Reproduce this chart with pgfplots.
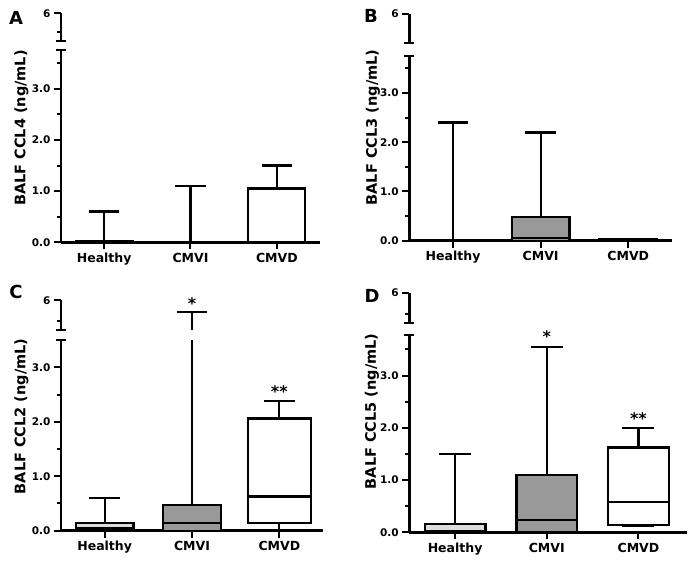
\documentclass[border=0pt]{standalone}
\usepackage{pgfplots}
\pgfplotsset{compat=1.18}
\usepgfplotslibrary{statistics}
\usepackage{fontspec}
\setmainfont{DejaVu Sans}
\definecolor{cmvi}{HTML}{999999}
\definecolor{healthy}{HTML}{DCDCDC}
\pgfplotsset{
  brk/.style={scale only axis, anchor=south west, xmin=-0.5, xmax=2.5,
    axis line style={line width=2.6pt, black},
    tick style={line width=2pt, black},
    major tick length=7pt, minor tick length=4pt, tick align=outside,
    tick label style={font=\fontsize{10.5}{12}\selectfont\bfseries},
    clip mode=individual,
    /pgf/number format/assume math mode=true,
    boxplot/draw direction=y},
  lowerax/.style={brk, axis x line*=bottom, axis y line*=left, ymin=0,
    xtick={0,1,2}, xticklabels={Healthy,CMVI,CMVD},
    xticklabel style={font=\fontsize{12.5}{14}\selectfont\bfseries},
    ytick={0,1,2,3}, yticklabels={0.0,1.0,2.0,3.0},
    minor ytick={0.5,1.5,2.5,3.5},
    extra y tick labels={},
    extra y tick style={tick align=center, major tick length=10pt}},
  upperax/.style={brk, axis x line=none, axis y line*=left, ymin=5.5, ymax=6,
    ytick={6}, yticklabels={6}, minor ytick={5.65},
    extra y ticks={5.5}, extra y tick labels={},
    extra y tick style={tick align=center, major tick length=10pt}},
  bx/.style={draw=black, line width=2.3pt, solid, mark=none},
}
\newcommand{\ylab}[1]{\fontsize{14.5}{16}\selectfont\bfseries #1}
\newcommand{\plab}[1]{\fontsize{18}{20}\selectfont\bfseries #1}
\newcommand{\stars}[1]{\fontsize{16}{18}\selectfont\bfseries #1}
\begin{document}
\begin{tikzpicture}
\path[use as bounding box] (0pt,0pt) rectangle (694pt,567pt);
% ================= Panel A =================
\begin{axis}[lowerax, at={(61pt,324.7pt)}, width=259pt, height=192.3pt, ymax=3.76, extra y ticks={3.76}]
\addplot[bx, fill=healthy, boxplot prepared={draw position=0, lower whisker=0, lower quartile=0, median=0, upper quartile=0.02, upper whisker=0.6, box extend=0.66, whisker extend=0.35}] coordinates {};
\addplot[bx, fill=cmvi, boxplot prepared={draw position=1, lower whisker=0, lower quartile=0, median=0, upper quartile=0.01, upper whisker=1.1, box extend=0.66, whisker extend=0.35}] coordinates {};
\addplot[bx, fill=white, boxplot prepared={draw position=2, lower whisker=0, lower quartile=0, median=0, upper quartile=1.05, upper whisker=1.5, box extend=0.66, whisker extend=0.35}] coordinates {};
\end{axis}
\begin{axis}[upperax, at={(61pt,526.3pt)}, width=259pt, height=27.4pt]
\end{axis}
\node[rotate=90] at (21.5pt,439pt) {\ylab{BALF CCL4 (ng/mL)}};
\node at (16pt,548.7pt) {\plab{A}};
% ================= Panel B =================
\begin{axis}[lowerax, at={(409.3pt,326.3pt)}, width=262.7pt, height=185pt, ymax=3.76, extra y ticks={3.76}]
\addplot[bx, fill=healthy, boxplot prepared={draw position=0, lower whisker=0, lower quartile=0, median=0, upper quartile=0.01, upper whisker=2.4, box extend=0.66, whisker extend=0.35}] coordinates {};
\addplot[bx, fill=cmvi, boxplot prepared={draw position=1, lower whisker=0, lower quartile=0, median=0.06, upper quartile=0.48, upper whisker=2.2, box extend=0.66, whisker extend=0.35}] coordinates {};
\addplot[bx, fill=white, boxplot prepared={draw position=2, lower whisker=0, lower quartile=0, median=0.01, upper quartile=0.03, upper whisker=0.04, box extend=0.66, whisker extend=0.35}] coordinates {};
\end{axis}
\begin{axis}[upperax, at={(409.3pt,523.7pt)}, width=262.7pt, height=29.3pt, minor ytick={}]
\end{axis}
\node[rotate=90] at (373pt,439.5pt) {\ylab{BALF CCL3 (ng/mL)}};
\node at (371pt,551pt) {\plab{B}};
% ================= Panel C =================
\begin{axis}[lowerax, at={(61pt,36.3pt)}, width=262pt, height=190.4pt, ymax=3.5, extra y ticks={3.5}]
\addplot[bx, fill=healthy, boxplot prepared={draw position=0, lower whisker=0, lower quartile=0, median=0.04, upper quartile=0.14, upper whisker=0.6, box extend=0.66, whisker extend=0.35}] coordinates {};
\addplot[bx, fill=cmvi, boxplot prepared={draw position=1, lower whisker=0, lower quartile=0, median=0.14, upper quartile=0.47, upper whisker=5.8, box extend=0.66, whisker extend=0.35}] coordinates {};
\addplot[bx, fill=white, boxplot prepared={draw position=2, lower whisker=0, lower quartile=0.14, median=0.63, upper quartile=2.06, upper whisker=2.39, box extend=0.72, whisker extend=0.35}] coordinates {};
\node[yshift=-3pt] at (axis cs:2,2.61) {\stars{**}};
\end{axis}
\begin{axis}[upperax, at={(61pt,237.3pt)}, width=262pt, height=29.4pt]
\addplot[bx, fill=cmvi, boxplot prepared={draw position=1, lower whisker=0, lower quartile=0, median=0.14, upper quartile=0.47, upper whisker=5.8, box extend=0.66, whisker extend=0.35}] coordinates {};
\node[yshift=-3pt] at (axis cs:1,6) {\stars{*}};
\end{axis}
\node[rotate=90] at (21.5pt,150.7pt) {\ylab{BALF CCL2 (ng/mL)}};
\node at (16pt,275pt) {\plab{C}};
% ================= Panel D =================
\begin{axis}[lowerax, at={(409.3pt,34.7pt)}, width=277.7pt, height=197pt, xmax=2.53, ymax=3.77, extra y ticks={3.77}]
\addplot[bx, fill=healthy, boxplot prepared={draw position=0, lower whisker=0, lower quartile=0, median=0.03, upper quartile=0.16, upper whisker=1.5, box extend=0.66, whisker extend=0.35}] coordinates {};
\addplot[bx, fill=cmvi, boxplot prepared={draw position=1, lower whisker=0, lower quartile=0, median=0.24, upper quartile=1.09, upper whisker=3.54, box extend=0.66, whisker extend=0.35}] coordinates {};
\addplot[bx, fill=white, boxplot prepared={draw position=2, lower whisker=0.12, lower quartile=0.14, median=0.58, upper quartile=1.62, upper whisker=2.0, box extend=0.66, whisker extend=0.35}] coordinates {};
\node[yshift=-3pt] at (axis cs:1,3.8) {\stars{*}};
\node[yshift=-3pt] at (axis cs:2,2.23) {\stars{**}};
\end{axis}
\begin{axis}[upperax, at={(409.3pt,244pt)}, width=277.7pt, height=30pt, xmax=2.53]
\end{axis}
\node[rotate=90] at (372pt,155.7pt) {\ylab{BALF CCL5 (ng/mL)}};
\node at (372pt,271.5pt) {\plab{D}};
\end{tikzpicture}
\end{document}
